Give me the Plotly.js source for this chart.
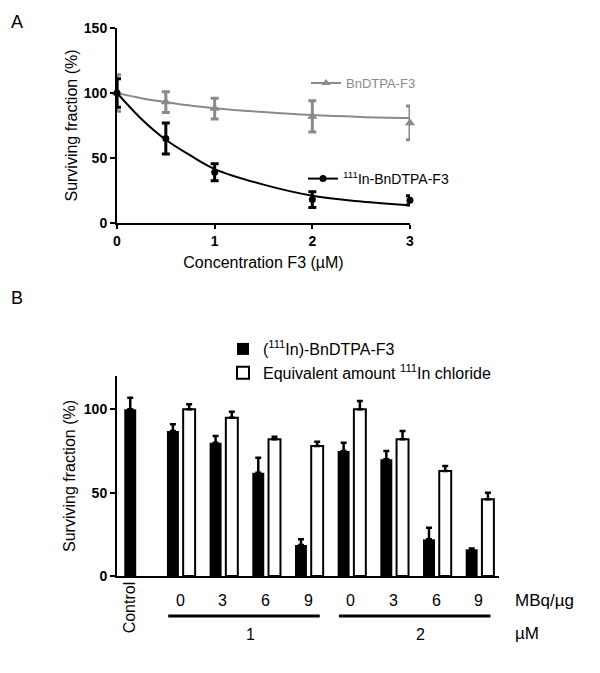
<!DOCTYPE html>
<html>
<head>
<meta charset="utf-8">
<script src="https://cdn.plot.ly/plotly-3.0.1.min.js"></script>
<style>html,body{margin:0;padding:0;background:#fff;}#chart{width:600px;height:673px;}</style>
</head>
<body>
<div id="chart"></div>
<script>
// ---------- Panel A data ----------
const concA = [0, 0.5, 1, 2, 3];
const bnMean = [100, 93, 88, 82, 77];
const bnErr = [14, 8, 8, 12, 13];
const inMean = [100, 65, 39, 18, 17.5];
const inErr = [11, 12, 6.5, 6, 3.5];
// fitted curves
const fitX = [0, 0.25, 0.5, 0.75, 1, 1.5, 2, 2.5, 3];
const bnFit = [100, 96, 93, 90.3, 88.3, 85.3, 83, 81.6, 80.7];
const inFit = [100, 80, 64, 52, 41.5, 29.5, 21, 16.5, 13.5];

// ---------- Panel B data ----------
const concB = ['1', '2'];
const doses = ['0', '3', '6', '9'];
const controlLabel = 'Control';
const blackVals = [100, 87, 80, 62, 18.6, 75, 70, 22, 16];
const blackErr = [7, 4, 4, 9, 3.5, 5, 5, 7, 0.5];
const whiteVals = [null, 100, 95, 82, 78, 100, 82, 63, 46];
const whiteErr = [null, 3, 3.5, 1.5, 2.5, 5, 5, 3, 4];

const cats = [controlLabel];
const catLabels = [controlLabel];
concB.forEach(c => doses.forEach(d => { cats.push(c + ' µM / ' + d); catLabels.push(d); }));

const FONT = 'Liberation Sans, Arial, Helvetica, sans-serif';
const GRAY = '#8a8a8a';

const traces = [
  // Panel A
  {x: fitX, y: bnFit, xaxis: 'x', yaxis: 'y', mode: 'lines', line: {color: GRAY, width: 2, shape: 'spline'}, showlegend: false, hoverinfo: 'skip'},
  {x: fitX, y: inFit, xaxis: 'x', yaxis: 'y', mode: 'lines', line: {color: '#000', width: 2, shape: 'spline'}, showlegend: false, hoverinfo: 'skip'},
  {x: concA, y: bnMean, xaxis: 'x', yaxis: 'y', mode: 'markers', cliponaxis: false,
   marker: {symbol: 'triangle-up', size: 9, color: GRAY},
   error_y: {type: 'data', array: bnErr, color: GRAY, thickness: 3, width: 4}, showlegend: false},
  {x: concA, y: inMean, xaxis: 'x', yaxis: 'y', mode: 'markers', cliponaxis: false,
   marker: {symbol: 'circle', size: 7, color: '#000'},
   error_y: {type: 'data', array: inErr, color: '#000', thickness: 3, width: 4}, showlegend: false},
  {x: [null], y: [null], xaxis: 'x', yaxis: 'y', mode: 'lines+markers', name: 'BnDTPA-F3',
   line: {color: GRAY, width: 2}, marker: {symbol: 'triangle-up', size: 8, color: GRAY}, legend: 'legend'},
  {x: [null], y: [null], xaxis: 'x', yaxis: 'y', mode: 'lines+markers', name: '<sup>111</sup>In-BnDTPA-F3',
   line: {color: '#000', width: 2}, marker: {symbol: 'circle', size: 7, color: '#000'}, legend: 'legend2'},
  // Panel B
  {type: 'bar', x: cats, y: blackVals, xaxis: 'x2', yaxis: 'y2', name: '(<sup>111</sup>In)-BnDTPA-F3',
   offset: -0.33, width: 0.28, marker: {color: '#000', line: {color: '#000', width: 0}},
   error_y: {type: 'data', array: blackErr, arrayminus: blackErr.map(() => 0), symmetric: false, color: '#000', thickness: 2.5, width: 3},
   legend: 'legend3'},
  {type: 'bar', x: cats, y: whiteVals, xaxis: 'x2', yaxis: 'y2', name: 'Equivalent amount <sup>111</sup>In chloride',
   offset: 0.05, width: 0.28, marker: {color: '#fff', line: {color: '#000', width: 2}},
   error_y: {type: 'data', array: whiteErr, arrayminus: whiteErr.map(() => 0), symmetric: false, color: '#000', thickness: 2.5, width: 3},
   legend: 'legend3'}
];

const annotations = [
  {text: 'A', xref: 'paper', yref: 'paper', x: 0.015, y: 1 - 22/673, xanchor: 'left', yanchor: 'middle', showarrow: false, font: {family: FONT, size: 18, color: '#000'}},
  {text: 'B', xref: 'paper', yref: 'paper', x: 0.015, y: 1 - 298/673, xanchor: 'left', yanchor: 'middle', showarrow: false, font: {family: FONT, size: 18, color: '#000'}},
  {text: 'MBq/µg', xref: 'paper', yref: 'paper', x: 513/600, y: 1 - 600/673, xanchor: 'left', yanchor: 'middle', showarrow: false, font: {family: FONT, size: 17, color: '#000'}},
  {text: 'µM', xref: 'paper', yref: 'paper', x: 513/600, y: 1 - 633/673, xanchor: 'left', yanchor: 'middle', showarrow: false, font: {family: FONT, size: 17, color: '#000'}}
];
const shapes = [];
cats.forEach((c, i) => {
  if (i === 0) {
    annotations.push({text: catLabels[i], xref: 'x2', yref: 'paper', x: c, xshift: -9, y: 1 - 607/673, textangle: -90, xanchor: 'center', yanchor: 'middle', showarrow: false, font: {family: FONT, size: 16, color: '#000'}});
  } else {
    annotations.push({text: catLabels[i], xref: 'x2', yref: 'paper', x: c, xshift: -1, y: 1 - 600/673, xanchor: 'center', yanchor: 'middle', showarrow: false, font: {family: FONT, size: 16, color: '#000'}});
  }
});
concB.forEach((c, g) => {
  const i0 = 1 + g * doses.length, i1 = i0 + doses.length - 1;
  shapes.push({type: 'line', xref: 'x2', yref: 'paper', x0: i0 - 0.3, x1: i1 + 0.25, y0: 1 - 616/673, y1: 1 - 616/673, line: {color: '#000', width: 3}});
  annotations.push({text: c, xref: 'x2', yref: 'paper', x: (i0 + i1) / 2, xshift: 5, y: 1 - 634/673, xanchor: 'center', yanchor: 'middle', showarrow: false, font: {family: FONT, size: 16, color: '#000'}});
});

const axisCommon = {showline: true, linecolor: '#000', linewidth: 2, showgrid: false, zeroline: false, ticks: 'outside', ticklen: 5, tickwidth: 2, tickcolor: '#000'};
const tickFont = {family: FONT, size: 14, weight: 'bold', color: '#000'};
const titleFont = {family: FONT, size: 16, color: '#000'};

const layout = {
  width: 600, height: 673,
  margin: {l: 0, r: 0, t: 0, b: 0},
  paper_bgcolor: '#fff', plot_bgcolor: '#fff',
  font: {family: FONT, color: '#000'},
  barmode: 'overlay',
  xaxis: Object.assign({}, axisCommon, {domain: [117/600, 410/600], range: [0, 3], tickvals: [0, 1, 2, 3], ticklen: 4,
    tickfont: tickFont, anchor: 'y',
    title: {text: 'Concentration F3 (µM)', font: titleFont, standoff: 9}}),
  yaxis: Object.assign({}, axisCommon, {domain: [1 - 223/673, 1 - 28/673], range: [0, 150], tickvals: [0, 50, 100, 150],
    tickfont: tickFont, anchor: 'x',
    title: {text: 'Surviving fraction (%)', font: titleFont, standoff: 2}}),
  xaxis2: Object.assign({}, axisCommon, {domain: [117/600, 499/600], type: 'category', categoryorder: 'array', categoryarray: cats,
    range: [-0.5, 8.45], ticks: '', showticklabels: false, anchor: 'y2'}),
  yaxis2: Object.assign({}, axisCommon, {domain: [1 - 576/673, 1 - 376/673], range: [0, 120], tickvals: [0, 50, 100],
    tickfont: tickFont, anchor: 'x2',
    title: {text: 'Surviving fraction (%)', font: titleFont, standoff: 4}}),
  legend: {x: 306/600, y: 1 - 68/673, xanchor: 'left', yanchor: 'top', bgcolor: 'rgba(0,0,0,0)', font: {family: FONT, size: 13, color: GRAY}},
  legend2: {x: 303/600, y: 1 - 163/673, xanchor: 'left', yanchor: 'top', bgcolor: 'rgba(0,0,0,0)', font: {family: FONT, size: 14, color: '#000'}},
  legend3: {x: 223/600, y: 1 - 332/673, xanchor: 'left', yanchor: 'top', bgcolor: 'rgba(0,0,0,0)', font: {family: FONT, size: 16, color: '#000'}, traceorder: 'normal'},
  annotations: annotations,
  shapes: shapes
};

Plotly.newPlot('chart', traces, layout, {displayModeBar: false, staticPlot: true});
</script>
</body>
</html>
